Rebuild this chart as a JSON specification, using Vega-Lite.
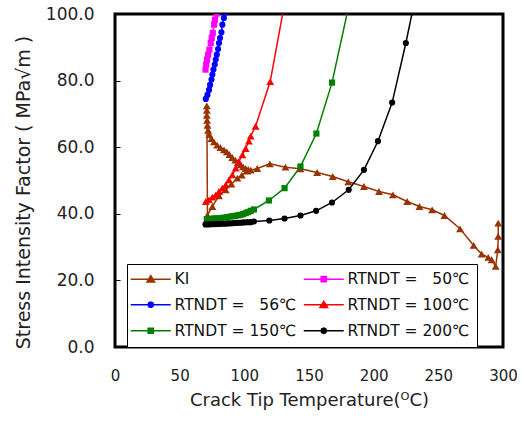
{
  "$schema": "https://vega.github.io/schema/vega-lite/v6.json",
  "width": 388,
  "height": 333,
  "autosize": {"type": "none"},
  "padding": {"left": 115, "top": 14, "right": 21, "bottom": 79},
  "config": {
    "view": {"stroke": "black", "strokeWidth": 3},
    "font": "DejaVu Sans",
    "axis": {
      "labelFont": "DejaVu Sans",
      "labelFontSize": 16,
      "labelColor": "#222",
      "titleFont": "DejaVu Sans",
      "titleFontSize": 18,
      "titleFontWeight": "normal",
      "titleColor": "#222",
      "grid": false,
      "domain": false,
      "tickColor": "black",
      "tickSize": -5,
      "tickWidth": 1
    }
  },
  "data": {
    "values": [
      {"s": "KI", "i": 1, "T": 296.3, "K": 37.2},
      {"s": "KI", "i": 2, "T": 296.3, "K": 33.2},
      {"s": "KI", "i": 3, "T": 296.0, "K": 29.2},
      {"s": "KI", "i": 4, "T": 294.3, "K": 24.2},
      {"s": "KI", "i": 5, "T": 291.2, "K": 26.2},
      {"s": "KI", "i": 6, "T": 288.6, "K": 26.9},
      {"s": "KI", "i": 7, "T": 283.5, "K": 27.9},
      {"s": "KI", "i": 8, "T": 277.3, "K": 30.5},
      {"s": "KI", "i": 9, "T": 266.8, "K": 35.5},
      {"s": "KI", "i": 10, "T": 254.7, "K": 39.5},
      {"s": "KI", "i": 11, "T": 245.2, "K": 41.2},
      {"s": "KI", "i": 12, "T": 235.4, "K": 42.2},
      {"s": "KI", "i": 13, "T": 225.9, "K": 43.7},
      {"s": "KI", "i": 14, "T": 214.9, "K": 45.7},
      {"s": "KI", "i": 15, "T": 204.1, "K": 46.7},
      {"s": "KI", "i": 16, "T": 192.5, "K": 48.2},
      {"s": "KI", "i": 17, "T": 180.4, "K": 49.6},
      {"s": "KI", "i": 18, "T": 168.3, "K": 51.2},
      {"s": "KI", "i": 19, "T": 156.3, "K": 52.4},
      {"s": "KI", "i": 20, "T": 143.4, "K": 53.5},
      {"s": "KI", "i": 21, "T": 131.8, "K": 54.0},
      {"s": "KI", "i": 22, "T": 119.7, "K": 55.0},
      {"s": "KI", "i": 23, "T": 110.0, "K": 53.6},
      {"s": "KI", "i": 24, "T": 102.3, "K": 52.8},
      {"s": "KI", "i": 25, "T": 98.0, "K": 51.6},
      {"s": "KI", "i": 26, "T": 94.6, "K": 50.7},
      {"s": "KI", "i": 27, "T": 90.0, "K": 48.9},
      {"s": "KI", "i": 28, "T": 85.6, "K": 47.2},
      {"s": "KI", "i": 29, "T": 80.4, "K": 45.4},
      {"s": "KI", "i": 30, "T": 75.3, "K": 42.2},
      {"s": "KI", "i": 31, "T": 71.5, "K": 39.6},
      {"s": "KI", "i": 32, "T": 71.0, "K": 72.4},
      {"s": "KI", "i": 33, "T": 71.0, "K": 71.1},
      {"s": "KI", "i": 34, "T": 71.0, "K": 69.6},
      {"s": "KI", "i": 35, "T": 71.2, "K": 68.1},
      {"s": "KI", "i": 36, "T": 71.5, "K": 66.6},
      {"s": "KI", "i": 37, "T": 72.0, "K": 65.1},
      {"s": "KI", "i": 38, "T": 73.0, "K": 63.8},
      {"s": "KI", "i": 39, "T": 74.5, "K": 62.6},
      {"s": "KI", "i": 40, "T": 76.5, "K": 61.6},
      {"s": "KI", "i": 41, "T": 79.0, "K": 60.6},
      {"s": "KI", "i": 42, "T": 81.5, "K": 59.9},
      {"s": "KI", "i": 43, "T": 84.3, "K": 59.2},
      {"s": "KI", "i": 44, "T": 86.5, "K": 58.6},
      {"s": "KI", "i": 45, "T": 88.5, "K": 57.8},
      {"s": "KI", "i": 46, "T": 90.7, "K": 56.9},
      {"s": "KI", "i": 47, "T": 93.0, "K": 56.1},
      {"s": "KI", "i": 48, "T": 95.0, "K": 55.4},
      {"s": "KI", "i": 49, "T": 97.1, "K": 54.7},
      {"s": "KI", "i": 50, "T": 99.0, "K": 54.1},
      {"s": "KI", "i": 51, "T": 101.0, "K": 53.6},
      {"s": "KI", "i": 52, "T": 103.0, "K": 53.3},
      {"s": "KI", "i": 53, "T": 105.0, "K": 53.1},

      {"s": "RTNDT = \u00a0\u00a050℃", "i": 1, "T": 70.0, "K": 83.3},
      {"s": "RTNDT = \u00a0\u00a050℃", "i": 2, "T": 70.5, "K": 84.8},
      {"s": "RTNDT = \u00a0\u00a050℃", "i": 3, "T": 71.2, "K": 86.3},
      {"s": "RTNDT = \u00a0\u00a050℃", "i": 4, "T": 72.0, "K": 87.8},
      {"s": "RTNDT = \u00a0\u00a050℃", "i": 5, "T": 73.0, "K": 89.3},
      {"s": "RTNDT = \u00a0\u00a050℃", "i": 6, "T": 74.0, "K": 91.3},
      {"s": "RTNDT = \u00a0\u00a050℃", "i": 7, "T": 74.8, "K": 92.8},
      {"s": "RTNDT = \u00a0\u00a050℃", "i": 8, "T": 75.6, "K": 94.3},
      {"s": "RTNDT = \u00a0\u00a050℃", "i": 9, "T": 76.6, "K": 96.8},
      {"s": "RTNDT = \u00a0\u00a050℃", "i": 10, "T": 77.3, "K": 98.3},
      {"s": "RTNDT = \u00a0\u00a050℃", "i": 11, "T": 78.6, "K": 100.1},

      {"s": "RTNDT = \u00a0\u00a056℃", "i": 1, "T": 70.2, "K": 74.5},
      {"s": "RTNDT = \u00a0\u00a056℃", "i": 2, "T": 71.5, "K": 75.7},
      {"s": "RTNDT = \u00a0\u00a056℃", "i": 3, "T": 72.7, "K": 77.2},
      {"s": "RTNDT = \u00a0\u00a056℃", "i": 4, "T": 73.5, "K": 78.7},
      {"s": "RTNDT = \u00a0\u00a056℃", "i": 5, "T": 74.6, "K": 80.3},
      {"s": "RTNDT = \u00a0\u00a056℃", "i": 6, "T": 75.3, "K": 81.8},
      {"s": "RTNDT = \u00a0\u00a056℃", "i": 7, "T": 76.1, "K": 83.3},
      {"s": "RTNDT = \u00a0\u00a056℃", "i": 8, "T": 77.1, "K": 84.8},
      {"s": "RTNDT = \u00a0\u00a056℃", "i": 9, "T": 77.9, "K": 86.3},
      {"s": "RTNDT = \u00a0\u00a056℃", "i": 10, "T": 78.7, "K": 87.8},
      {"s": "RTNDT = \u00a0\u00a056℃", "i": 11, "T": 79.7, "K": 89.5},
      {"s": "RTNDT = \u00a0\u00a056℃", "i": 12, "T": 80.4, "K": 91.3},
      {"s": "RTNDT = \u00a0\u00a056℃", "i": 13, "T": 81.2, "K": 92.8},
      {"s": "RTNDT = \u00a0\u00a056℃", "i": 14, "T": 82.3, "K": 94.5},
      {"s": "RTNDT = \u00a0\u00a056℃", "i": 15, "T": 83.0, "K": 96.8},
      {"s": "RTNDT = \u00a0\u00a056℃", "i": 16, "T": 84.2, "K": 98.8},
      {"s": "RTNDT = \u00a0\u00a056℃", "i": 17, "T": 85.0, "K": 100.3},

      {"s": "RTNDT = 100℃", "i": 1, "T": 70.2, "K": 43.7},
      {"s": "RTNDT = 100℃", "i": 2, "T": 72.7, "K": 44.2},
      {"s": "RTNDT = 100℃", "i": 3, "T": 75.3, "K": 45.0},
      {"s": "RTNDT = 100℃", "i": 4, "T": 77.9, "K": 45.7},
      {"s": "RTNDT = 100℃", "i": 5, "T": 80.4, "K": 46.7},
      {"s": "RTNDT = 100℃", "i": 6, "T": 83.0, "K": 47.7},
      {"s": "RTNDT = 100℃", "i": 7, "T": 85.6, "K": 48.7},
      {"s": "RTNDT = 100℃", "i": 8, "T": 88.1, "K": 50.2},
      {"s": "RTNDT = 100℃", "i": 9, "T": 90.7, "K": 51.7},
      {"s": "RTNDT = 100℃", "i": 10, "T": 93.3, "K": 53.7},
      {"s": "RTNDT = 100℃", "i": 11, "T": 95.8, "K": 55.7},
      {"s": "RTNDT = 100℃", "i": 12, "T": 98.5, "K": 57.7},
      {"s": "RTNDT = 100℃", "i": 13, "T": 101.0, "K": 59.6},
      {"s": "RTNDT = 100℃", "i": 14, "T": 103.5, "K": 61.8},
      {"s": "RTNDT = 100℃", "i": 15, "T": 104.9, "K": 63.3},
      {"s": "RTNDT = 100℃", "i": 16, "T": 108.7, "K": 66.3},
      {"s": "RTNDT = 100℃", "i": 17, "T": 120.0, "K": 79.7},
      {"s": "RTNDT = 100℃", "i": 18, "T": 131.5, "K": 104.0},

      {"s": "RTNDT = 150℃", "i": 1, "T": 71.0, "K": 38.4},
      {"s": "RTNDT = 150℃", "i": 2, "T": 74.0, "K": 38.5},
      {"s": "RTNDT = 150℃", "i": 3, "T": 76.5, "K": 38.6},
      {"s": "RTNDT = 150℃", "i": 4, "T": 79.0, "K": 38.65},
      {"s": "RTNDT = 150℃", "i": 5, "T": 81.7, "K": 38.7},
      {"s": "RTNDT = 150℃", "i": 6, "T": 84.3, "K": 38.85},
      {"s": "RTNDT = 150℃", "i": 7, "T": 86.9, "K": 39.0},
      {"s": "RTNDT = 150℃", "i": 8, "T": 89.4, "K": 39.2},
      {"s": "RTNDT = 150℃", "i": 9, "T": 91.5, "K": 39.3},
      {"s": "RTNDT = 150℃", "i": 10, "T": 93.3, "K": 39.4},
      {"s": "RTNDT = 150℃", "i": 11, "T": 95.2, "K": 39.55},
      {"s": "RTNDT = 150℃", "i": 12, "T": 97.1, "K": 39.7},
      {"s": "RTNDT = 150℃", "i": 13, "T": 99.0, "K": 39.9},
      {"s": "RTNDT = 150℃", "i": 14, "T": 101.0, "K": 40.2},
      {"s": "RTNDT = 150℃", "i": 15, "T": 103.0, "K": 40.5},
      {"s": "RTNDT = 150℃", "i": 16, "T": 104.9, "K": 40.9},
      {"s": "RTNDT = 150℃", "i": 17, "T": 107.4, "K": 41.3},
      {"s": "RTNDT = 150℃", "i": 18, "T": 119.0, "K": 44.0},
      {"s": "RTNDT = 150℃", "i": 19, "T": 131.1, "K": 47.7},
      {"s": "RTNDT = 150℃", "i": 20, "T": 143.4, "K": 54.2},
      {"s": "RTNDT = 150℃", "i": 21, "T": 155.7, "K": 64.1},
      {"s": "RTNDT = 150℃", "i": 22, "T": 167.8, "K": 79.4},
      {"s": "RTNDT = 150℃", "i": 23, "T": 180.5, "K": 102.0},

      {"s": "RTNDT = 200℃", "i": 1, "T": 70.0, "K": 36.8},
      {"s": "RTNDT = 200℃", "i": 2, "T": 72.0, "K": 36.8},
      {"s": "RTNDT = 200℃", "i": 3, "T": 74.0, "K": 36.85},
      {"s": "RTNDT = 200℃", "i": 4, "T": 76.0, "K": 36.9},
      {"s": "RTNDT = 200℃", "i": 5, "T": 78.0, "K": 36.9},
      {"s": "RTNDT = 200℃", "i": 6, "T": 80.0, "K": 36.95},
      {"s": "RTNDT = 200℃", "i": 7, "T": 82.0, "K": 37.0},
      {"s": "RTNDT = 200℃", "i": 8, "T": 84.0, "K": 37.0},
      {"s": "RTNDT = 200℃", "i": 9, "T": 86.0, "K": 37.05},
      {"s": "RTNDT = 200℃", "i": 10, "T": 88.0, "K": 37.1},
      {"s": "RTNDT = 200℃", "i": 11, "T": 90.0, "K": 37.15},
      {"s": "RTNDT = 200℃", "i": 12, "T": 92.0, "K": 37.2},
      {"s": "RTNDT = 200℃", "i": 13, "T": 94.0, "K": 37.25},
      {"s": "RTNDT = 200℃", "i": 14, "T": 96.0, "K": 37.3},
      {"s": "RTNDT = 200℃", "i": 15, "T": 98.0, "K": 37.35},
      {"s": "RTNDT = 200℃", "i": 16, "T": 100.0, "K": 37.4},
      {"s": "RTNDT = 200℃", "i": 17, "T": 102.5, "K": 37.5},
      {"s": "RTNDT = 200℃", "i": 18, "T": 104.9, "K": 37.5},
      {"s": "RTNDT = 200℃", "i": 19, "T": 107.4, "K": 37.7},
      {"s": "RTNDT = 200℃", "i": 20, "T": 119.3, "K": 38.0},
      {"s": "RTNDT = 200℃", "i": 21, "T": 131.1, "K": 38.6},
      {"s": "RTNDT = 200℃", "i": 22, "T": 143.4, "K": 39.5},
      {"s": "RTNDT = 200℃", "i": 23, "T": 155.5, "K": 40.9},
      {"s": "RTNDT = 200℃", "i": 24, "T": 167.8, "K": 43.4},
      {"s": "RTNDT = 200℃", "i": 25, "T": 180.7, "K": 47.2},
      {"s": "RTNDT = 200℃", "i": 26, "T": 192.5, "K": 53.2},
      {"s": "RTNDT = 200℃", "i": 27, "T": 203.3, "K": 61.8},
      {"s": "RTNDT = 200℃", "i": 28, "T": 214.3, "K": 73.4},
      {"s": "RTNDT = 200℃", "i": 29, "T": 224.9, "K": 91.3},
      {"s": "RTNDT = 200℃", "i": 30, "T": 236.0, "K": 112.0}
    ]
  },
  "encoding": {
    "x": {
      "field": "T", "type": "quantitative",
      "scale": {"domain": [0, 300], "nice": false},
      "axis": {
        "values": [0, 50, 100, 150, 200, 250, 300],
        "title": "Crack Tip Temperature(ᴼC)",
        "labelFlush": false,
        "labelFontSize": 15,
        "labelPadding": 26,
        "titlePadding": 8
      }
    },
    "y": {
      "field": "K", "type": "quantitative",
      "scale": {"domain": [0, 100], "nice": false},
      "axis": {
        "values": [0, 20, 40, 60, 80, 100],
        "format": ".1f",
        "title": "Stress Intensity Factor ( MPa√m )",
        "titleFontSize": 19,
        "titleX": -82,
        "titleY": 178,
        "labelFontSize": 17,
        "labelPadding": 26,
        "titlePadding": 15
      }
    },
    "color": {
      "field": "s", "type": "nominal",
      "scale": {
        "domain": ["KI", "RTNDT = \u00a0\u00a050℃", "RTNDT = \u00a0\u00a056℃", "RTNDT = 100℃", "RTNDT = 150℃", "RTNDT = 200℃"],
        "range": ["#993300", "#FF00FF", "#0000FF", "#FF0000", "#008000", "#000000"]
      },
      "legend": {
        "orient": "none",
        "legendX": 12,
        "legendY": 250,
        "direction": "horizontal",
        "columns": 2,
        "title": null,
        "strokeColor": "black",
        "fillColor": "white",
        "padding": 7,
        "rowPadding": 9,
        "columnPadding": 3,
        "symbolOffset": 9,
        "labelOffset": 16,
        "labelFont": "DejaVu Sans",
        "labelFontSize": 15.5,
        "labelColor": "#111",
        "labelLimit": 400,
        "symbolSize": 64,
        "encode": {
          "symbols": {
            "update": {
              "shape": {"signal": "['M-5,0L5,0M0,-0.85L0.95,0.7L-0.95,0.7Z','M-5,0L5,0M-0.65,-0.65L0.65,-0.65L0.65,0.65L-0.65,0.65Z','M-5,0L5,0M0.7,0L0.495,0.495L0,0.7L-0.495,0.495L-0.7,0L-0.495,-0.495L0,-0.7L0.495,-0.495Z'][indexof(['KI','RTNDT = \u00a0\u00a050℃','RTNDT = \u00a0\u00a056℃','RTNDT = 100℃','RTNDT = 150℃','RTNDT = 200℃'], datum.value) % 3]"},
              "fill": {"signal": "scale('color', datum.value)"},
              "stroke": {"signal": "scale('color', datum.value)"},
              "strokeWidth": {"value": 1.5},
              "size": {"value": 64},
              "opacity": {"value": 1}
            }
          }
        }
      }
    }
  },
  "layer": [
    {
      "mark": {"type": "line", "clip": true, "strokeWidth": 1.5},
      "encoding": {"order": {"field": "i", "type": "quantitative"}}
    },
    {
      "transform": [{"filter": {"field": "s", "oneOf": ["KI", "RTNDT = 100℃"]}}],
      "mark": {"type": "point", "shape": "triangle-up", "size": 62, "filled": true, "clip": true, "opacity": 1}
    },
    {
      "transform": [{"filter": {"field": "s", "oneOf": ["RTNDT = \u00a0\u00a050℃", "RTNDT = 150℃"]}}],
      "mark": {"type": "point", "shape": "square", "size": 38, "filled": true, "clip": true, "opacity": 1}
    },
    {
      "transform": [{"filter": {"field": "s", "oneOf": ["RTNDT = \u00a0\u00a056℃", "RTNDT = 200℃"]}}],
      "mark": {"type": "point", "shape": "circle", "size": 38, "filled": true, "clip": true, "opacity": 1}
    }
  ]
}
